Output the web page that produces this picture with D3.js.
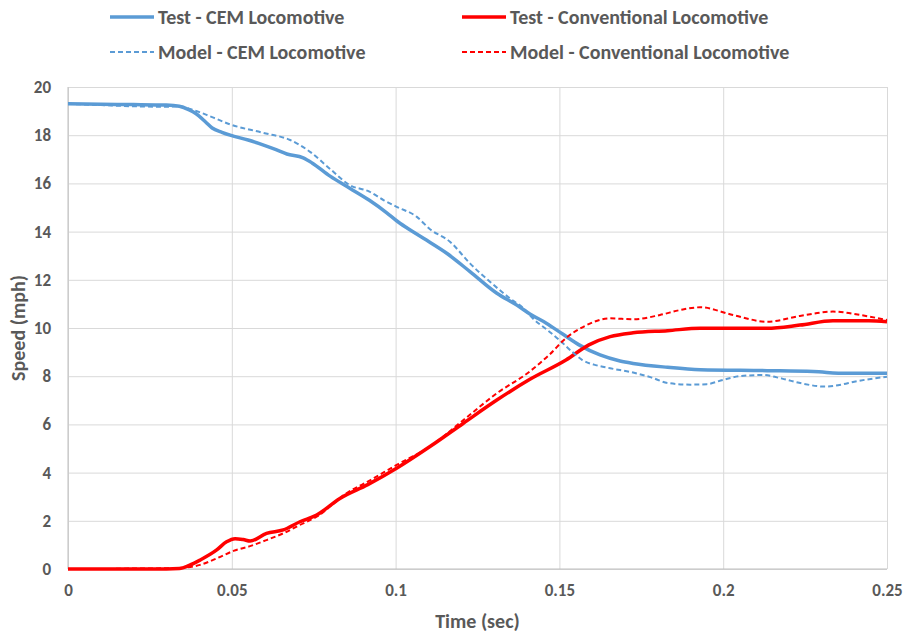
<!DOCTYPE html>
<html>
<head>
<meta charset="utf-8">
<script src="https://cdnjs.cloudflare.com/ajax/libs/d3/7.8.5/d3.min.js"></script>
<style>
  body { margin: 0; background: #fff; }
  text { font-family: Carlito, Lato, "Liberation Sans", sans-serif; font-weight: bold; fill: #595959; }
</style>
</head>
<body>
<svg class="chart" width="903" height="634"></svg>
<script>

// Test - CEM Locomotive.
var testCemTime = [0, 0.01, 0.02, 0.03, 0.034, 0.037, 0.039, 0.042, 0.044, 0.047, 0.0495, 0.055,
  0.0595, 0.0635, 0.0668, 0.0718, 0.0745, 0.08, 0.086, 0.092, 0.0973, 0.1003, 0.1035,
  0.1085, 0.1156, 0.1227, 0.1309, 0.137, 0.141, 0.146, 0.151, 0.156, 0.1624, 0.1685, 0.1725,
  0.183, 0.193, 0.2134, 0.2275, 0.2377, 0.25];
var testCemSpeed = [19.3, 19.28, 19.27, 19.25, 19.2, 19.05, 18.9, 18.55, 18.3, 18.12, 18.0, 17.8,
  17.6, 17.4, 17.22, 17.06, 16.85, 16.3, 15.8, 15.3, 14.78, 14.45, 14.15,
  13.72, 13.1, 12.34, 11.44, 10.95, 10.58, 10.2, 9.75, 9.3, 8.88, 8.63, 8.53,
  8.37, 8.27, 8.23, 8.19, 8.12, 8.12];

// Model - CEM Locomotive.
var modelCemTime = [0, 0.01, 0.02, 0.03, 0.034, 0.037, 0.044, 0.0495, 0.0595, 0.0678, 0.074, 0.08,
  0.086, 0.092, 0.0964, 0.1003, 0.1064, 0.1105, 0.1166, 0.1227, 0.1288, 0.1349, 0.139, 0.142,
  0.146, 0.15, 0.154, 0.157, 0.1614, 0.1655, 0.1725, 0.178, 0.183, 0.19, 0.195, 0.2, 0.205,
  0.212, 0.218, 0.224, 0.231, 0.236, 0.24, 0.25];
var modelCemSpeed = [19.3, 19.25, 19.2, 19.18, 19.2, 19.1, 18.75, 18.45, 18.1, 17.8, 17.3, 16.6,
  15.93, 15.66, 15.3, 15.03, 14.62, 14.1, 13.58, 12.68, 11.92, 11.23, 10.82, 10.38,
  9.95, 9.5, 9.0, 8.67, 8.45, 8.33, 8.15, 7.95, 7.72, 7.65, 7.67, 7.85, 8.0,
  8.05, 7.9, 7.7, 7.57, 7.65, 7.77, 7.98];

// Test - Conventional Locomotive.
var testConvTime = [0, 0.01, 0.02, 0.03, 0.034, 0.037, 0.0403, 0.0454, 0.0484, 0.051, 0.0535, 0.0556,
  0.0606, 0.0657, 0.0708, 0.0759, 0.083, 0.0915, 0.1003, 0.1105, 0.1207, 0.1309, 0.141, 0.152,
  0.159, 0.1655, 0.1725, 0.183, 0.193, 0.2134, 0.2234, 0.2335, 0.2445, 0.25];
var testConvSpeed = [0, 0, 0, 0, 0.02, 0.15, 0.37, 0.79, 1.13, 1.26, 1.22, 1.16,
  1.48, 1.62, 1.96, 2.24, 2.93, 3.5, 4.18, 5.08, 6.05, 7.01, 7.87, 8.67,
  9.3, 9.64, 9.8, 9.89, 9.99, 9.99, 10.12, 10.3, 10.3, 10.26];

// Model - Conventional Locomotive.
var modelConvTime = [0, 0.01, 0.02, 0.03, 0.0351, 0.0403, 0.0454, 0.0505, 0.0556, 0.0606, 0.0657, 0.0708,
  0.0759, 0.085, 0.0925, 0.1003, 0.1105, 0.1207, 0.1309, 0.141, 0.147, 0.152, 0.158, 0.1655,
  0.1725, 0.1807, 0.187, 0.193, 0.203, 0.2134, 0.2234, 0.2335, 0.2418, 0.25];
var modelConvSpeed = [0, 0, 0.02, 0.03, 0.05, 0.17, 0.44, 0.75, 0.95, 1.2, 1.48, 1.83,
  2.17, 3.14, 3.7, 4.32, 5.08, 6.18, 7.29, 8.2, 8.9, 9.58, 10.1, 10.4,
  10.36, 10.54, 10.75, 10.86, 10.54, 10.26, 10.5, 10.68, 10.54, 10.33];

// Tick labels.
var xTicks = [0, 0.05, 0.1, 0.15, 0.2, 0.25];
var xTickLabels = ["0", "0.05", "0.1", "0.15", "0.2", "0.25"];
var yTicks = [0, 2, 4, 6, 8, 10, 12, 14, 16, 18, 20];

var series = [
  {name: "Test - CEM Locomotive", time: testCemTime, speed: testCemSpeed, color: "#5b9bd5", dashed: false},
  {name: "Test - Conventional Locomotive", time: testConvTime, speed: testConvSpeed, color: "#ff0000", dashed: false},
  {name: "Model - CEM Locomotive", time: modelCemTime, speed: modelCemSpeed, color: "#5b9bd5", dashed: true},
  {name: "Model - Conventional Locomotive", time: modelConvTime, speed: modelConvSpeed, color: "#ff0000", dashed: true}
];

var margin = {top: 87, right: 16, bottom: 65, left: 68},
    width = 903 - margin.left - margin.right,
    height = 634 - margin.top - margin.bottom;

var svg = d3.select(".chart");
var chart = svg.append("g")
    .attr("transform", "translate(" + margin.left + "," + margin.top + ")");

var x = d3.scaleLinear().domain([0, 0.25]).range([0, width]);
var y = d3.scaleLinear().domain([0, 20]).range([height, 0]);

drawGrid();
drawAxes();
drawLines();
drawLegend();

/*
* Gridlines and plot border.
*/
function drawGrid() {
  chart.append("g")
      .call(d3.axisLeft(y).tickValues(yTicks).tickSize(-width).tickFormat(""))
      .call(function(g) { g.select(".domain").remove(); })
    .selectAll("line")
      .attr("stroke", "#d9d9d9")
      .attr("stroke-width", 1);

  chart.append("g")
      .attr("transform", "translate(0," + height + ")")
      .call(d3.axisBottom(x).tickValues(xTicks).tickSize(-height).tickFormat(""))
      .call(function(g) { g.select(".domain").remove(); })
    .selectAll("line")
      .attr("stroke", "#d9d9d9")
      .attr("stroke-width", 1);

  // Left and bottom axis lines.
  chart.append("line")
      .attr("x1", 0).attr("x2", 0).attr("y1", 0).attr("y2", height)
      .attr("stroke", "#bfbfbf");
  chart.append("line")
      .attr("x1", 0).attr("x2", width).attr("y1", height).attr("y2", height)
      .attr("stroke", "#bfbfbf");
}

/*
* Tick labels and axis titles.
*/
function drawAxes() {
  var yAxis = chart.append("g")
      .call(d3.axisLeft(y).tickValues(yTicks).tickSize(0).tickPadding(17));
  yAxis.select(".domain").remove();
  yAxis.selectAll("text")
      .style("font-size", "17px")
      .attr("fill", "#595959");

  var xAxis = chart.append("g")
      .attr("transform", "translate(0," + height + ")")
      .call(d3.axisBottom(x).tickValues(xTicks).tickSize(0).tickPadding(15)
        .tickFormat(function(d, i) { return xTickLabels[i]; }));
  xAxis.select(".domain").remove();
  xAxis.selectAll("text")
      .style("font-size", "17px")
      .attr("fill", "#595959");

  svg.append("text")
      .attr("x", margin.left + width / 2)
      .attr("y", 628)
      .attr("text-anchor", "middle")
      .style("font-size", "20px")
      .text("Time (sec)");

  svg.append("text")
      .attr("transform", "translate(25," + (margin.top + height / 2) + ") rotate(-90)")
      .attr("text-anchor", "middle")
      .style("font-size", "20px")
      .text("Speed (mph)");
}

/*
* Draw the four speed curves.
*/
function drawLines() {
  var line = d3.line()
      .x(function(d) { return x(d[0]); })
      .y(function(d) { return y(d[1]); })
      .curve(d3.curveMonotoneX);

  series.forEach(function(s) {
    var points = s.time.map(function(t, i) { return [t, s.speed[i]]; });
    chart.append("path")
        .datum(points)
        .attr("fill", "none")
        .attr("stroke", s.color)
        .attr("stroke-width", s.dashed ? 2 : 3.5)
        .attr("stroke-dasharray", s.dashed ? "5,3" : null)
        .attr("stroke-linejoin", "round")
        .attr("d", line);
  });
}

/*
* Legend in two rows above the plot.
*/
function drawLegend() {
  var cols = [110, 462];
  var rows = [17, 52];

  series.forEach(function(s, i) {
    var g = svg.append("g")
        .attr("transform", "translate(" + cols[i % 2] + "," + rows[Math.floor(i / 2)] + ")");
    g.append("line")
        .attr("x1", 0).attr("x2", 44)
        .attr("stroke", s.color)
        .attr("stroke-width", s.dashed ? 2 : 3.5)
        .attr("stroke-dasharray", s.dashed ? "5,3" : null);
    g.append("text")
        .attr("x", 48)
        .attr("dy", "0.35em")
        .style("font-size", "20px")
        .text(s.name);
  });
}
</script>
</body>
</html>
